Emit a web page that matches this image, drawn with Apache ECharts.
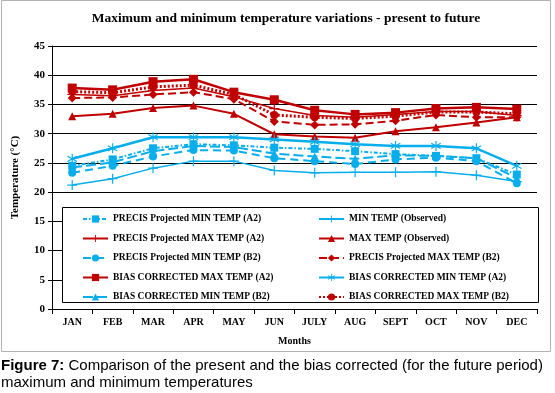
<!DOCTYPE html>
<html>
<head>
<meta charset="utf-8">
<script src="https://cdn.jsdelivr.net/npm/echarts@6/dist/echarts.min.js"></script>
<style>
html,body{margin:0;padding:0;background:#fff;}
#chart{width:555px;height:393px;}
</style>
</head>
<body>
<div id="chart"></div>
<script>
var months = ['JAN','FEB','MAR','APR','MAY','JUN','JULY','AUG','SEPT','OCT','NOV','DEC'];
var yTicks = [0,5,10,15,20,25,30,35,40,45];

var precisMinA2 = [24.5, 25.6, 27.5, 28.2, 28.0, 27.6, 27.4, 27.0, 26.5, 26.2, 25.8, 23.0];
var precisMaxA2 = [36.7, 36.5, 37.4, 37.8, 36.3, 34.3, 33.1, 32.8, 33.3, 33.8, 33.8, 33.1];
var precisMinB2 = [23.3, 24.5, 26.1, 27.2, 27.1, 25.8, 25.3, 24.8, 25.6, 25.9, 25.3, 21.5];
var biasMaxA2   = [37.8, 37.5, 38.9, 39.3, 37.1, 35.8, 34.0, 33.3, 33.6, 34.3, 34.5, 34.2];
var biasMinB2   = [24.2, 25.1, 27.0, 27.9, 27.7, 26.6, 26.1, 25.7, 26.3, 26.2, 25.8, 22.4];
var minObs      = [21.2, 22.3, 24.1, 25.3, 25.3, 23.7, 23.3, 23.4, 23.4, 23.5, 22.9, 21.8];
var maxObs      = [33.0, 33.4, 34.4, 34.8, 33.4, 29.9, 29.5, 29.3, 30.4, 31.1, 31.9, 32.8];
var precisMaxB2 = [36.1, 36.2, 36.7, 37.1, 35.9, 32.1, 31.5, 31.6, 32.2, 33.2, 32.8, 32.8];
var biasMinA2   = [25.7, 27.5, 29.4, 29.4, 29.4, 29.0, 28.6, 28.2, 27.9, 27.9, 27.5, 24.5];
var biasMaxB2   = [37.2, 37.0, 38.0, 38.3, 36.7, 33.2, 32.8, 32.6, 33.0, 33.7, 33.7, 33.4];

var RED = '#C00000';
var BLUE = '#08AEEC';
var PLUS = 'path://M4.4,0 L5.6,0 L5.6,4.4 L10,4.4 L10,5.6 L5.6,5.6 L5.6,10 L4.4,10 L4.4,5.6 L0,5.6 L0,4.4 L4.4,4.4 Z';
var STAR = 'path://M4.5,0 L5.5,0 L5.5,10 L4.5,10 Z M1.2,1.9 L9.3,7.1 L8.8,8.1 L0.7,2.9 Z M8.8,1.9 L9.3,2.9 L1.2,8.1 L0.7,7.1 Z';
var serif = '"Liberation Serif","Times New Roman",serif';

function mk(name, data, color, symbol, size, lineType, width) {
  return {
    name: name, type: 'line', data: data,
    symbol: symbol, symbolSize: size, showSymbol: symbol !== 'none',
    itemStyle: {color: color},
    lineStyle: {color: color, width: width, type: lineType},
    emphasis: {disabled: true}, animation: false
  };
}

var series = [
  mk('PRECIS Projected MIN TEMP (A2)', precisMinA2, BLUE, 'rect', 8, [4,2,1.5,2], 2),
  mk('PRECIS Projected MAX TEMP (A2)', precisMaxA2, RED, PLUS, 10, 'solid', 1.5),
  mk('PRECIS Projected MIN TEMP (B2)', precisMinB2, BLUE, 'circle', 8, [8,5], 2),
  mk('BIAS CORRECTED MAX TEMP (A2)', biasMaxA2, RED, 'rect', 9, 'solid', 2.5),
  mk('BIAS CORRECTED MIN TEMP (B2)', biasMinB2, BLUE, 'triangle', 8, [10,4], 2),
  mk('MIN TEMP (Observed)', minObs, BLUE, PLUS, 10, 'solid', 1.5),
  mk('MAX TEMP (Observed)', maxObs, RED, 'triangle', 8, 'solid', 2),
  mk('PRECIS Projected MAX TEMP (B2)', precisMaxB2, RED, 'diamond', 9, [8,4], 2),
  mk('BIAS CORRECTED MIN TEMP (A2)', biasMinA2, BLUE, STAR, 10, 'solid', 2.5),
  mk('BIAS CORRECTED MAX TEMP (B2)', biasMaxB2, RED, 'circle', 8, [2,2], 3)
];

var legendText = {fontFamily: serif, fontWeight: 'bold', fontSize: 9.5, color: '#000'};

var option = {
  backgroundColor: '#fff',
  animation: false,
  title: {
    text: 'Maximum and minimum temperature variations - present to future',
    left: 281, textAlign: 'center', top: 7,
    textStyle: {fontFamily: serif, fontWeight: 'bold', fontSize: 13.5, color: '#000'}
  },
  grid: {left: 52, right: 18, top: 46, bottom: 84},
  xAxis: {
    type: 'category', data: months, boundaryGap: true,
    name: 'Months', nameLocation: 'middle', nameGap: 27,
    nameTextStyle: {fontFamily: serif, fontWeight: 'bold', fontSize: 10, color: '#000'},
    axisLine: {lineStyle: {color: '#000', width: 1}},
    axisTick: {show: true, length: 5, lineStyle: {color: '#000'}},
    axisLabel: {fontFamily: serif, fontWeight: 'bold', fontSize: 10, color: '#000', margin: 8, interval: 0},
    splitLine: {show: false}
  },
  yAxis: {
    type: 'value', min: 0, max: 45, interval: 5,
    name: 'Temperature (°C)', nameLocation: 'middle', nameGap: 31, nameRotate: 90,
    nameTextStyle: {fontFamily: serif, fontWeight: 'bold', fontSize: 11, color: '#000'},
    axisLine: {show: true, lineStyle: {color: '#000', width: 1}},
    axisTick: {show: true, length: 4, lineStyle: {color: '#000'}},
    axisLabel: {fontFamily: serif, fontWeight: 'bold', fontSize: 11, color: '#000', margin: 7,
      formatter: function (v) { return yTicks.indexOf(v) >= 0 ? String(v) : ''; }},
    splitLine: {show: true, lineStyle: {color: '#000', width: 1}}
  },
  legend: [
    {
      orient: 'vertical', left: 77, top: 209, itemWidth: 25, itemHeight: 9, itemGap: 9.5,
      textStyle: legendText, selectedMode: false, z: 10,
      data: ['PRECIS Projected MIN TEMP (A2)','PRECIS Projected MAX TEMP (A2)','PRECIS Projected MIN TEMP (B2)','BIAS CORRECTED MAX TEMP (A2)','BIAS CORRECTED MIN TEMP (B2)']
    },
    {
      orient: 'vertical', left: 313, top: 209, itemWidth: 25, itemHeight: 9, itemGap: 9.5,
      textStyle: legendText, selectedMode: false, z: 10,
      data: ['MIN TEMP (Observed)','MAX TEMP (Observed)','PRECIS Projected MAX TEMP (B2)','BIAS CORRECTED MIN TEMP (A2)','BIAS CORRECTED MAX TEMP (B2)']
    }
  ],
  graphic: [
    {type: 'rect', z: 8, silent: true,
      shape: {x: 62.5, y: 207.5, width: 476, height: 95},
      style: {fill: '#fff', stroke: '#000', lineWidth: 1}},
    {type: 'rect', z: 1, silent: true,
      shape: {x: 1.5, y: 0.5, width: 549, height: 351},
      style: {fill: 'none', stroke: '#b0b0b0', lineWidth: 1}},
    {type: 'text', left: 1, top: 357, z: 10, silent: true,
      style: {
        text: '{b|Figure 7:} Comparison of the present and the bias corrected (for the future period)\nmaximum and minimum temperatures',
        font: '15px "Liberation Sans", Arial, sans-serif', fill: '#000', lineHeight: 17,
        rich: {b: {font: 'bold 15px "Liberation Sans", Arial, sans-serif', fill: '#000'}}
      }}
  ],
  series: series
};

var chart = echarts.init(document.getElementById('chart'), null, {renderer: 'canvas'});
chart.setOption(option);
</script>
</body>
</html>
